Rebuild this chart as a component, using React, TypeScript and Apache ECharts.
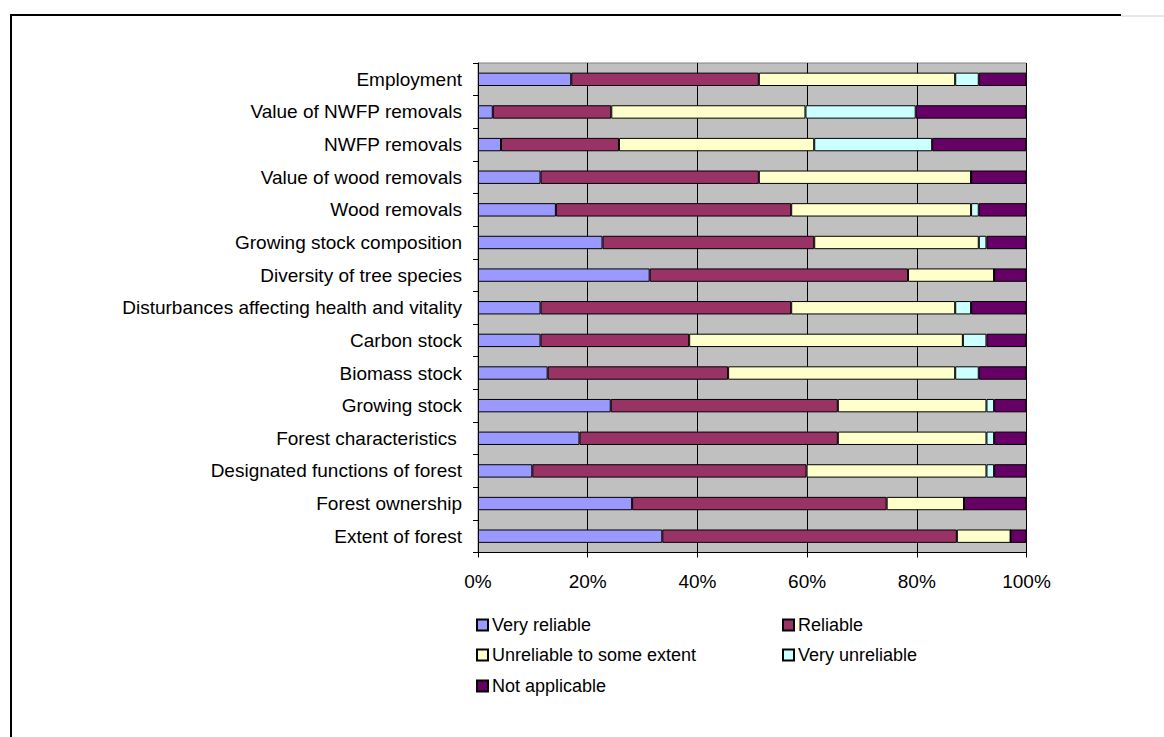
import React, { useEffect, useRef } from "react";
import * as echarts from "echarts";

// Indicators, listed from top to bottom
const categories = [
  "Employment",
  "Value of NWFP removals",
  "NWFP removals",
  "Value of wood removals",
  "Wood removals",
  "Growing stock composition",
  "Diversity of tree species",
  "Disturbances affecting health and vitality",
  "Carbon stock",
  "Biomass stock",
  "Growing stock",
  "Forest characteristics ",
  "Designated functions of forest",
  "Forest ownership",
  "Extent of forest",
];

// Share of answers (%) per reliability class, same order as categories
const veryReliable = [17.0, 2.7, 4.2, 11.4, 14.2, 22.7, 31.3, 11.4, 11.4, 12.7, 24.2, 18.5, 9.9, 28.1, 33.6];
const reliable = [34.2, 21.6, 21.5, 39.8, 42.9, 38.6, 47.1, 45.7, 27.1, 32.9, 41.4, 47.1, 50.0, 46.4, 53.7];
const unreliableSome = [35.8, 35.4, 35.6, 38.7, 32.8, 30.0, 15.7, 29.9, 49.9, 41.4, 27.1, 27.1, 32.8, 14.1, 9.8];
const veryUnreliable = [4.3, 20.1, 21.5, 0, 1.4, 1.4, 0, 2.9, 4.3, 4.3, 1.4, 1.4, 1.4, 0, 0];
const notApplicable = [8.7, 20.2, 17.2, 10.1, 8.7, 7.3, 5.9, 10.1, 7.3, 8.7, 5.9, 5.9, 5.9, 11.4, 2.9];

const seriesNames = [
  "Very reliable",
  "Reliable",
  "Unreliable to some extent",
  "Very unreliable",
  "Not applicable",
];
const seriesValues = [veryReliable, reliable, unreliableSome, veryUnreliable, notApplicable];
const seriesColors = ["#9999FF", "#993366", "#FFFFCC", "#CCFFFF", "#660066"];

const FONT = "'Liberation Sans', Arial, sans-serif";

export default function App() {
  const ref = useRef<HTMLDivElement>(null);

  useEffect(() => {
    if (!ref.current) return;
    const chart = echarts.init(ref.current, null, { renderer: "svg" });

    const legendPos = [
      { left: 476, top: 616 },
      { left: 782, top: 616 },
      { left: 476, top: 646 },
      { left: 782, top: 646 },
      { left: 476, top: 677 },
    ];

    chart.setOption({
      animation: false,
      backgroundColor: "#ffffff",
      textStyle: { fontFamily: FONT },
      grid: {
        left: 478,
        top: 63,
        width: 548.5,
        height: 489.5,
        show: true,
        backgroundColor: "#C0C0C0",
        borderColor: "#808080",
        borderWidth: 1,
      },
      xAxis: {
        type: "value",
        min: 0,
        max: 100,
        interval: 20,
        axisLine: { show: true, lineStyle: { color: "#000", width: 1 } },
        axisTick: { show: true, length: 5, lineStyle: { color: "#000" } },
        splitLine: { show: true, lineStyle: { color: "#000", width: 1 } },
        axisLabel: {
          formatter: "{value}%",
          color: "#000",
          fontSize: 19,
          fontFamily: FONT,
          margin: 19,
        },
      },
      yAxis: {
        type: "category",
        inverse: true,
        data: categories,
        axisLine: { show: true, onZero: false, lineStyle: { color: "#000", width: 1 } },
        axisTick: { show: true, length: 5, lineStyle: { color: "#000" } },
        splitLine: { show: false },
        axisLabel: {
          color: "#000",
          fontSize: 19,
          fontFamily: FONT,
          margin: 16,
        },
      },
      legend: seriesNames.map((name, i) => ({
        data: [name],
        left: legendPos[i].left,
        top: legendPos[i].top,
        orient: "horizontal",
        icon: "rect",
        itemWidth: 11,
        itemHeight: 11,
        itemGap: 6,
        padding: 0,
        selectedMode: false,
        textStyle: { color: "#000", fontSize: 18, fontFamily: FONT, padding: [0, 0, 0, -1] },
      })),
      series: seriesNames.map((name, i) => ({
        name,
        type: "bar",
        stack: "total",
        barWidth: "41%",
        data: seriesValues[i],
        itemStyle: {
          color: seriesColors[i],
          borderColor: "#000",
          borderWidth: 1,
        },
      })),
      graphic: [
        {
          type: "line",
          shape: { x1: 10, y1: 15, x2: 1121, y2: 15 },
          style: { stroke: "#000", lineWidth: 2 },
        },
        {
          type: "line",
          shape: { x1: 1121, y1: 16, x2: 1164, y2: 16 },
          style: { stroke: "#d0d0d0", lineWidth: 1 },
        },
        {
          type: "line",
          shape: { x1: 11, y1: 14, x2: 11, y2: 737 },
          style: { stroke: "#000", lineWidth: 2 },
        },
      ],
    });

    return () => chart.dispose();
  }, []);

  return (
    <div
      ref={ref}
      style={{ position: "absolute", left: 0, top: 0, width: 1164, height: 737 }}
    />
  );
}
